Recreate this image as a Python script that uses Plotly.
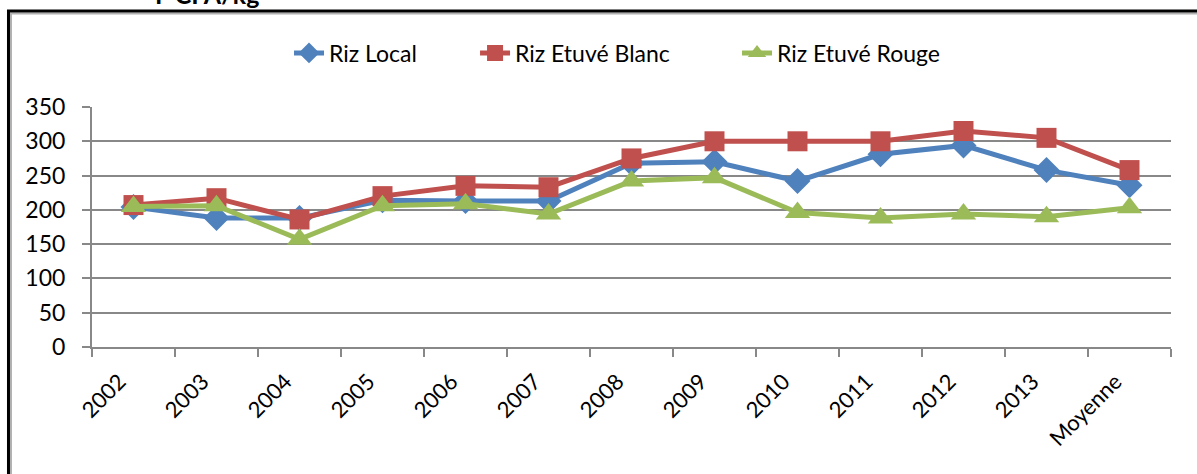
import plotly.graph_objects as go

categories = ["2002", "2003", "2004", "2005", "2006", "2007", "2008",
              "2009", "2010", "2011", "2012", "2013", "Moyenne"]
riz_local = [204, 188, 188, 214, 213, 213, 268, 270, 242, 281, 294, 258, 236]
riz_etuve_blanc = [207, 217, 186, 220, 235, 233, 275, 300, 300, 300, 315, 305, 258]
riz_etuve_rouge = [205, 206, 157, 206, 209, 194, 242, 247, 196, 188, 194, 190, 203]
y_ticks = [0, 50, 100, 150, 200, 250, 300, 350]

FONT = "Lato"
GRID = "#888888"

fig = go.Figure()
fig.add_trace(go.Scatter(
    x=categories, y=riz_local, name="Riz Local", mode="lines+markers",
    line=dict(color="#4F81BD", width=5),
    marker=dict(symbol="diamond", size=20, color="#4F81BD"),
    legend="legend",
))
fig.add_trace(go.Scatter(
    x=categories, y=riz_etuve_blanc, name="Riz Etuvé Blanc", mode="lines+markers",
    line=dict(color="#C0504D", width=5),
    marker=dict(symbol="square", size=20, color="#C0504D"),
    legend="legend2",
))
fig.add_trace(go.Scatter(
    x=categories, y=riz_etuve_rouge, name="Riz Etuvé Rouge", mode="lines+markers",
    line=dict(color="#9BBB59", width=5),
    marker=dict(symbol="triangle-up", size=22, color="#9BBB59"),
    legend="legend3",
))

def leg(x):
    return dict(
        orientation="h", x=x, xanchor="left", y=1.225, yanchor="middle",
        font=dict(family=FONT, size=23, color="black"),
        bgcolor="rgba(0,0,0,0)", borderwidth=0,
    )

fig.update_layout(
    width=1197, height=474,
    margin=dict(l=92, r=26, t=107, b=127, autoexpand=False),
    paper_bgcolor="white", plot_bgcolor="white",
    font=dict(family=FONT, size=23, color="black"),
    showlegend=True,
    legend=leg(0.1826), legend2=leg(0.355), legend3=leg(0.5978),
    xaxis=dict(
        type="category", range=[-0.5, 12.5], tickson="boundaries",
        ticks="outside", ticklen=8,
        tickcolor=GRID, tickwidth=2, showline=True, linecolor=GRID, linewidth=2,
        showgrid=False, tickangle=-45, tickfont=dict(family=FONT, size=22),
        zeroline=False, ticklabelshift=-14, ticklabelstandoff=11,
    ),
    yaxis=dict(
        range=[0, 350], tickvals=y_ticks, ticks="outside", ticklen=8,
        tickcolor=GRID, tickwidth=2, showline=True, linecolor=GRID, linewidth=2,
        showgrid=True, gridcolor=GRID, gridwidth=2, zeroline=False,
        tickfont=dict(family=FONT, size=23), ticklabelstandoff=12,
    ),
    shapes=[
        dict(type="rect", xref="paper", yref="paper",
             x0=-0.0751, x1=1.2, y0=-1.0, y1=1.3896,
             line=dict(color="#b0b0b0", width=2), fillcolor="rgba(0,0,0,0)", layer="above"),
        dict(type="rect", xref="paper", yref="paper",
             x0=-0.0774, x1=1.2, y0=-1.0, y1=1.4,
             line=dict(color="black", width=3), fillcolor="rgba(0,0,0,0)", layer="above"),
    ],
    annotations=[dict(
        text="<b>F CFA/kg</b>", xref="paper", yref="paper",
        x=0.1066, y=1.4, xanchor="center", yanchor="bottom",
        showarrow=False, font=dict(family=FONT, size=25, color="black"),
    )],
)

fig.write_html(
    "out.html",
    config={"displayModeBar": False},
    post_script="document.body.style.margin='0';",
)
